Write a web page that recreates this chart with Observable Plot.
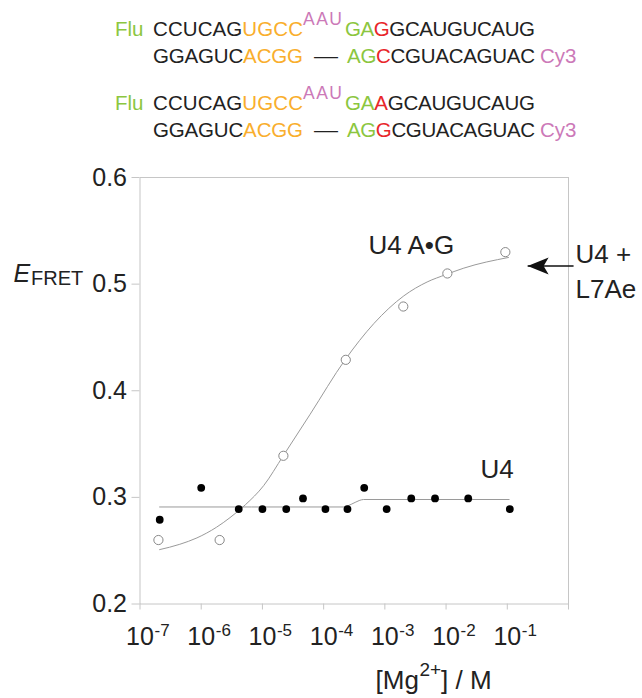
<!DOCTYPE html>
<html>
<head>
<meta charset="utf-8">
<script src="https://cdn.jsdelivr.net/npm/d3@7"></script>
<script src="https://cdn.jsdelivr.net/npm/@observablehq/plot@0.6"></script>
<style>
  html, body { margin: 0; padding: 0; background: #fff; }
  #wrap { width: 642px; }
  #seq { display: block; font-family: "Liberation Sans", Arial, sans-serif; }
  #chart svg { display: block; }
</style>
</head>
<body>
<div id="wrap">
<svg id="seq" width="642" height="150" xmlns="http://www.w3.org/2000/svg">
  <g font-size="20.5" fill="#222">
    <!-- duplex 1 -->
    <text x="115" y="36" fill="#8cc63f">Flu</text>
    <text x="153" y="36" textLength="150" lengthAdjust="spacing"><tspan fill="#222">CCUCAG</tspan><tspan fill="#f9ae2d">UGCC</tspan></text>
    <text x="303" y="24.5" font-size="17.5" fill="#cc79b8" textLength="39" lengthAdjust="spacing">AAU</text>
    <text x="345" y="36" textLength="190" lengthAdjust="spacing"><tspan fill="#8cc63f">GA</tspan><tspan fill="#e8262a">G</tspan><tspan fill="#222">GCAUGUCAUG</tspan></text>
    <text x="153" y="62.5" textLength="150" lengthAdjust="spacing"><tspan fill="#222">GGAGUC</tspan><tspan fill="#f9ae2d">ACGG</tspan></text>
    <text x="314" y="62.5" textLength="24" lengthAdjust="spacingAndGlyphs" fill="#222">—</text>
    <text x="347" y="62.5" textLength="188" lengthAdjust="spacing"><tspan fill="#8cc63f">AG</tspan><tspan fill="#e8262a">C</tspan><tspan fill="#222">CGUACAGUAC</tspan></text>
    <text x="540" y="62.5" fill="#cc79b8">Cy3</text>
    <!-- duplex 2 -->
    <text x="115" y="110" fill="#8cc63f">Flu</text>
    <text x="153" y="110" textLength="150" lengthAdjust="spacing"><tspan fill="#222">CCUCAG</tspan><tspan fill="#f9ae2d">UGCC</tspan></text>
    <text x="303" y="98.5" font-size="17.5" fill="#cc79b8" textLength="39" lengthAdjust="spacing">AAU</text>
    <text x="345" y="110" textLength="190" lengthAdjust="spacing"><tspan fill="#8cc63f">GA</tspan><tspan fill="#e8262a">A</tspan><tspan fill="#222">GCAUGUCAUG</tspan></text>
    <text x="153" y="136.5" textLength="150" lengthAdjust="spacing"><tspan fill="#222">GGAGUC</tspan><tspan fill="#f9ae2d">ACGG</tspan></text>
    <text x="314" y="136.5" textLength="24" lengthAdjust="spacingAndGlyphs" fill="#222">—</text>
    <text x="347" y="136.5" textLength="188" lengthAdjust="spacing"><tspan fill="#8cc63f">AG</tspan><tspan fill="#e8262a">G</tspan><tspan fill="#222">CGUACAGUAC</tspan></text>
    <text x="540" y="136.5" fill="#cc79b8">Cy3</text>
  </g>
</svg>
<div id="chart"></div>
</div>
<script>
// ---- data ----
// U4 + L7Ae (open circles): [Mg2+] in M, E_FRET
const openConc = [2.0e-7, 2.0e-6, 2.2e-5, 2.3e-4, 2.0e-3, 1.05e-2, 9.3e-2];
const openE    = [0.26, 0.26, 0.339, 0.429, 0.479, 0.510, 0.530];
// U4 A•G / U4 (filled circles)
const filledConc = [2.1e-7, 1.0e-6, 4.1e-6, 1.0e-5, 2.45e-5, 4.6e-5, 1.07e-4, 2.45e-4, 4.6e-4, 1.07e-3, 2.7e-3, 6.6e-3, 2.3e-2, 1.1e-1];
const filledE    = [0.279, 0.309, 0.289, 0.289, 0.289, 0.299, 0.289, 0.289, 0.309, 0.289, 0.299, 0.299, 0.299, 0.289];
// fitted curve through open circles (log10 [Mg2+], E_FRET)
const fitOpenLog = [-6.68, -6.35, -6.07, -5.75, -5.53, -5.28, -4.98, -4.66, -4.22, -3.65, -3.18, -2.69, -2.31, -2.0, -1.71, -0.98];
const fitOpenE   = [0.251, 0.256, 0.262, 0.272, 0.281, 0.293, 0.311, 0.339, 0.378, 0.429, 0.463, 0.489, 0.502, 0.509, 0.515, 0.525];
// fitted line through filled circles
const fitU4Log = [-6.68, -3.68, -3.55, -3.42, -3.35, -0.97];
const fitU4E   = [0.291, 0.291, 0.2935, 0.297, 0.298, 0.298];
// axis ticks
const yTicks = [0.2, 0.3, 0.4, 0.5, 0.6];
const xTickExps = [-7, -6, -5, -4, -3, -2, -1, 0];
const xLabelExps = [-7, -6, -5, -4, -3, -2, -1];
// annotation arrow (data space)
const arrowAnno = [{from: 1.21, to: 0.215, E: 0.517}];

const open = openConc.map((c, i) => ({c, e: openE[i]}));
const filled = filledConc.map((c, i) => ({c, e: filledE[i]}));
const fitOpen = fitOpenLog.map((l, i) => ({c: 10 ** l, e: fitOpenE[i]}));
const fitU4 = fitU4Log.map((l, i) => ({c: 10 ** l, e: fitU4E[i]}));

const arrowHead = {
  draw(ctx) {
    ctx.moveTo(0, 0);
    ctx.lineTo(21, -8.5);
    ctx.lineTo(16, 0);
    ctx.lineTo(21, 8.5);
    ctx.closePath();
  }
};

const FONT = "Liberation Sans, Arial, sans-serif";
const INK = "#222";
const GRID = "#c6c6c6";

const chart = Plot.plot({
  width: 642,
  height: 548,
  marginTop: 27,
  marginLeft: 139.5,
  marginRight: 74,
  marginBottom: 94.5,
  style: {fontFamily: FONT, color: INK, background: "white"},
  x: {type: "log", domain: [1e-7, 1]},
  y: {domain: [0.2, 0.6]},
  marks: [
    Plot.frame({stroke: GRID}),
    Plot.axisY({ticks: yTicks, tickSize: 8, tickPadding: 5, tickFormat: d3.format(".1f"),
                stroke: GRID, fill: INK, fontSize: 25, label: null}),
    Plot.axisX({ticks: xTickExps.map(e => 10 ** e), tickSize: 6, tickFormat: () => "",
                stroke: GRID, label: null}),
    Plot.text(xLabelExps, {x: d => 10 ** d, frameAnchor: "bottom", text: () => "10",
                textAnchor: "middle", lineAnchor: "bottom", dy: 40.5, fontSize: 25, fill: INK}),
    Plot.text(xLabelExps, {x: d => 10 ** d, frameAnchor: "bottom", text: d => String(d),
                textAnchor: "start", lineAnchor: "bottom", dx: 14.5, dy: 31.5, fontSize: 17, fill: INK}),
    Plot.line(fitOpen, {x: "c", y: "e", curve: "monotone-x", stroke: "#9a9a9a", strokeWidth: 1}),
    Plot.line(fitU4, {x: "c", y: "e", curve: "monotone-x", stroke: "#9a9a9a", strokeWidth: 1}),
    Plot.dot(open, {x: "c", y: "e", r: 4.6, stroke: "#888", fill: "white", strokeWidth: 1}),
    Plot.dot(filled, {x: "c", y: "e", r: 3.9, fill: "#000", stroke: "none"}),
    // series labels
    Plot.text(["U4 A•G"], {frameAnchor: "top-left", dx: 228.5, dy: 76, textAnchor: "start",
                lineAnchor: "bottom", fontSize: 26, fill: INK}),
    Plot.text(["U4"], {frameAnchor: "top-left", dx: 340.5, dy: 300, textAnchor: "start",
                lineAnchor: "bottom", fontSize: 26, fill: INK}),
    Plot.text(["U4 +"], {frameAnchor: "top-right", dx: 7, dy: 85, textAnchor: "start",
                lineAnchor: "bottom", fontSize: 26, fill: INK}),
    Plot.text(["L7Ae"], {frameAnchor: "top-right", dx: 7, dy: 120, textAnchor: "start",
                lineAnchor: "bottom", fontSize: 26, fill: INK}),
    // arrow
    Plot.link(arrowAnno, {x1: "from", x2: "to", y1: "E", y2: "E", stroke: "#111", strokeWidth: 1.6}),
    Plot.dot(arrowAnno, {x: "to", y: "E", symbol: arrowHead, fill: "#111", stroke: "none", r: 5}),
    // y-axis label E_FRET
    Plot.text(["E"], {frameAnchor: "top-left", dx: -126.5, dy: 104, textAnchor: "start",
                lineAnchor: "bottom", fontSize: 25, fontStyle: "italic", fill: INK}),
    Plot.text(["FRET"], {frameAnchor: "top-left", dx: -109, dy: 107, textAnchor: "start",
                lineAnchor: "bottom", fontSize: 20, fill: INK}),
    // x-axis label [Mg2+] / M
    Plot.text(["[Mg"], {frameAnchor: "bottom-left", dx: 235.5, dy: 84.5, textAnchor: "start",
                lineAnchor: "bottom", fontSize: 26, fill: INK}),
    Plot.text(["2+"], {frameAnchor: "bottom-left", dx: 279.5, dy: 72, textAnchor: "start",
                lineAnchor: "bottom", fontSize: 19, fill: INK}),
    Plot.text(["] / M"], {frameAnchor: "bottom-left", dx: 301, dy: 84.5, textAnchor: "start",
                lineAnchor: "bottom", fontSize: 26, fill: INK})
  ]
});
document.getElementById("chart").appendChild(chart);
</script>
</body>
</html>
